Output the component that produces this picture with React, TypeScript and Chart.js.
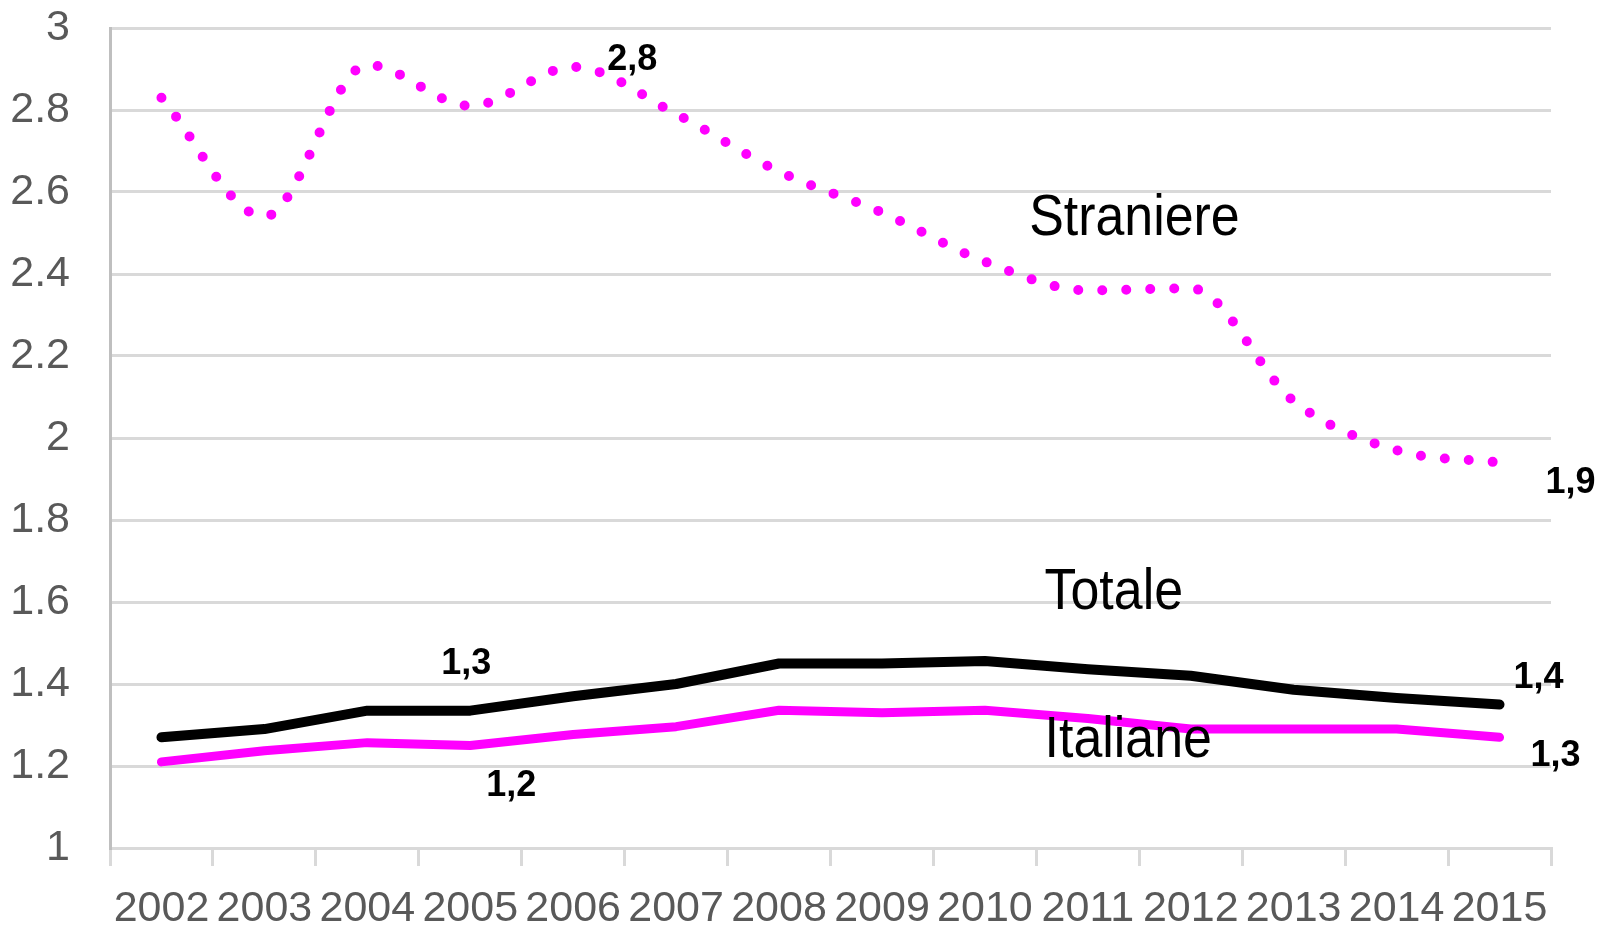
import React, { useEffect, useRef } from "react";
import { Chart, registerables } from "chart.js";

Chart.register(...registerables);

const years = ["2002", "2003", "2004", "2005", "2006", "2007", "2008", "2009", "2010", "2011", "2012", "2013", "2014", "2015"];
const straniere = [2.83, 2.54, 2.91, 2.81, 2.905, 2.79, 2.65, 2.55, 2.43, 2.36, 2.365, 2.09, 1.97, 1.94];
const totale = [1.27, 1.29, 1.335, 1.335, 1.37, 1.4, 1.45, 1.45, 1.456, 1.436, 1.42, 1.386, 1.366, 1.35];
const italiane = [1.21, 1.237, 1.257, 1.25, 1.277, 1.296, 1.336, 1.33, 1.336, 1.316, 1.29, 1.29, 1.29, 1.27];

const yMin = 1;
const yMax = 3;
const yStep = 0.2;

// value labels: [dataset index, point index, text]
const valueLabelSeries = [0, 0, 1, 2, 1, 2];
const valueLabelPoints = [4, 13, 3, 3, 13, 13];
const valueLabelTexts = ["2,8", "1,9", "1,3", "1,2", "1,4", "1,3"];
// offsets (layout)
const valueLabelOffsets = [
  [59, -7],
  [71, 20],
  [-4, -47],
  [41, 41],
  [39, -26],
  [56, 19],
];

// series names placed in data space: [category index, value]
const seriesNames = ["Straniere", "Totale", "Italiane"];
const seriesNameX = [8.43, 8.58, 8.58];
const seriesNameY = [2.495, 1.583, 1.222];

const labelsPlugin = {
  id: "labelsPlugin",
  afterDatasetsDraw(chart: any) {
    const ctx = chart.ctx;
    ctx.save();
    ctx.fillStyle = "#000";
    ctx.font = "bold 36px 'Liberation Sans', Arial, sans-serif";
    ctx.textAlign = "center";
    ctx.textBaseline = "middle";
    valueLabelTexts.forEach((t, i) => {
      const meta = chart.getDatasetMeta(valueLabelSeries[i]);
      const el = meta.data[valueLabelPoints[i]];
      const [dx, dy] = valueLabelOffsets[i];
      ctx.fillText(t, el.x + dx, el.y + dy);
    });
    ctx.font = "57px 'Liberation Sans', Arial, sans-serif";
    ctx.textAlign = "left";
    ctx.textBaseline = "alphabetic";
    const xs = chart.scales.x;
    const ys = chart.scales.y;
    seriesNames.forEach((n, i) => {
      const px = xs.getPixelForValue(seriesNameX[i]);
      const py = ys.getPixelForValue(seriesNameY[i]);
      ctx.save();
      ctx.translate(px, py);
      ctx.scale(0.91, 1);
      ctx.fillText(n, 0, 0);
      ctx.restore();
    });
    ctx.restore();
  },
};

export default function App() {
  const ref = useRef<HTMLCanvasElement | null>(null);
  useEffect(() => {
    document.body.style.margin = "0";
    const canvas = ref.current!;
    const chart = new Chart(canvas, {
      type: "line",
      data: {
        labels: years,
        datasets: [
          {
            label: "Straniere",
            data: straniere,
            borderColor: "#ff00ff",
            borderWidth: 10,
            borderDash: [0, 24],
            borderCapStyle: "round",
            pointRadius: 0,
            cubicInterpolationMode: "monotone",
            fill: false,
          },
          {
            label: "Totale",
            data: totale,
            borderColor: "#000000",
            borderWidth: 10,
            borderCapStyle: "round",
            borderJoinStyle: "round",
            pointRadius: 0,
            tension: 0,
            fill: false,
          },
          {
            label: "Italiane",
            data: italiane,
            borderColor: "#ff00ff",
            borderWidth: 9,
            borderCapStyle: "round",
            borderJoinStyle: "round",
            pointRadius: 0,
            tension: 0,
            fill: false,
          },
        ],
      },
      options: {
        responsive: false,
        animation: false,
        layout: { padding: { top: 28, right: 48, left: 0, bottom: 0 } },
        plugins: {
          legend: { display: false },
          tooltip: { enabled: false },
          title: { display: false },
        },
        scales: {
          x: {
            type: "category",
            offset: true,
            grid: {
              offset: true,
              drawOnChartArea: false,
              drawTicks: true,
              tickLength: 18,
              color: "#d9d9d9",
              lineWidth: 3,
            },
            border: { color: "#d9d9d9", width: 3 },
            ticks: {
              color: "#595959",
              font: { family: "'Liberation Sans', Arial, sans-serif", size: 43 },
              padding: 17,
              maxRotation: 0,
              autoSkip: false,
            },
            afterFit: (s: any) => {
              s.height = 80;
            },
          },
          y: {
            min: yMin,
            max: yMax,
            grid: {
              color: "#d9d9d9",
              lineWidth: 3,
              drawTicks: false,
            },
            border: { color: "#bfbfbf", width: 3 },
            ticks: {
              stepSize: yStep,
              color: "#595959",
              font: { family: "'Liberation Sans', Arial, sans-serif", size: 43 },
              padding: 40,
              callback: (v: any) => String(Number(Number(v).toFixed(1))),
            },
            afterFit: (s: any) => {
              s.width = 110;
              s.paddingTop = 0;
              s.paddingBottom = 0;
            },
          },
        },
      },
      plugins: [labelsPlugin],
    });
    return () => chart.destroy();
  }, []);
  return (
    <div style={{ position: "absolute", left: 0, top: 0, width: 1599, height: 928, background: "#fff" }}>
      <canvas ref={ref} width={1599} height={928} />
    </div>
  );
}
